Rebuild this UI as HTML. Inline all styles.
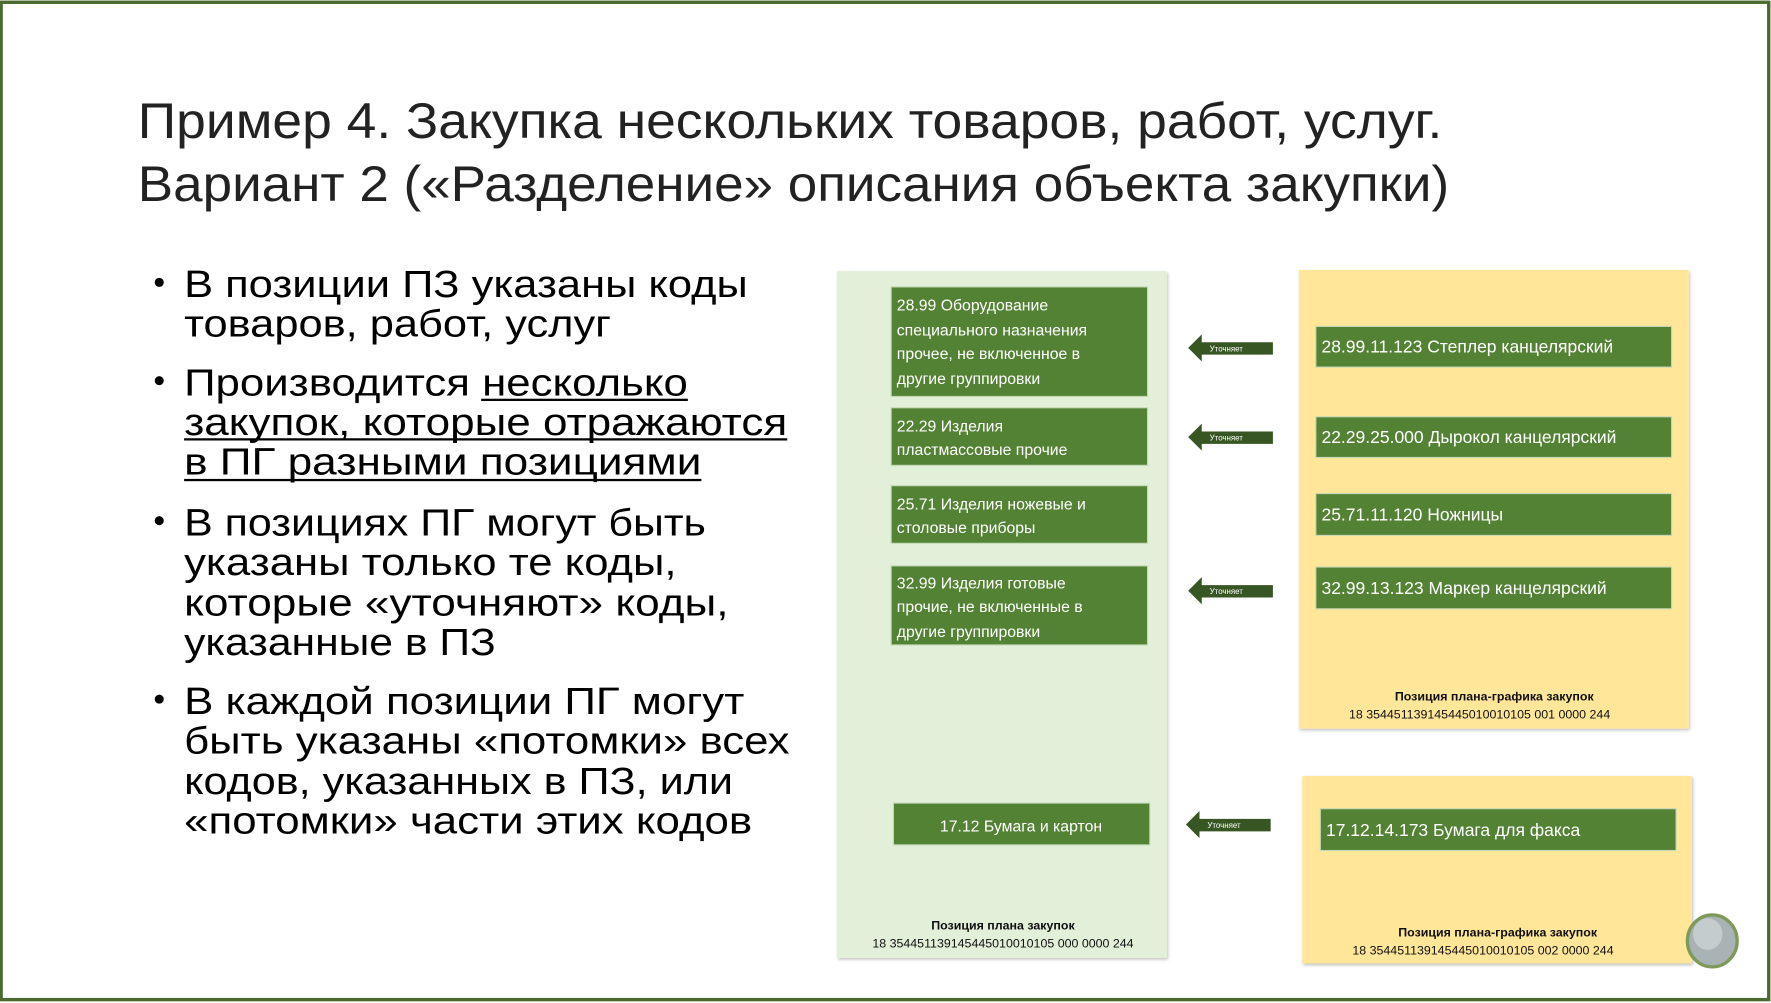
<!DOCTYPE html>
<html><head><meta charset="utf-8"><style>
html,body{margin:0;padding:0;background:#fff;}
svg{display:block}
text{font-family:"Liberation Sans","DejaVu Sans",sans-serif;}
</style></head><body>
<svg width="1771" height="1003" viewBox="0 0 1568 888" preserveAspectRatio="none" xmlns="http://www.w3.org/2000/svg">
<defs>
<filter id="sh" x="-5%" y="-5%" width="110%" height="110%"><feDropShadow dx="1" dy="1.5" stdDeviation="1.5" flood-color="#000" flood-opacity="0.25"/></filter>
</defs>
<rect x="0" y="0" width="1568" height="888" fill="#fff"/>
<rect x="1" y="2" width="1565" height="883" fill="none" stroke="#4b6b2e" stroke-width="3"/>
<g fill="#222">
<text x="122" y="122" font-size="44" textLength="1155" lengthAdjust="spacingAndGlyphs">Пример 4. Закупка нескольких товаров, работ, услуг.</text>
<text x="122" y="178" font-size="44" textLength="1161" lengthAdjust="spacingAndGlyphs">Вариант 2 («Разделение» описания объекта закупки)</text>
</g>
<g fill="#000" font-size="34">
<circle cx="141" cy="250" r="4"/><circle cx="141" cy="337" r="4"/><circle cx="141" cy="461" r="4"/><circle cx="141" cy="619" r="4"/>
<text x="163" y="263" textLength="499" lengthAdjust="spacingAndGlyphs">В позиции ПЗ указаны коды</text>
<text x="163" y="298" textLength="378" lengthAdjust="spacingAndGlyphs">товаров, работ, услуг</text>
<text x="163" y="350" textLength="446" lengthAdjust="spacingAndGlyphs">Производится несколько</text>
<text x="163" y="385" textLength="534" lengthAdjust="spacingAndGlyphs">закупок, которые отражаются</text>
<text x="163" y="420" textLength="458" lengthAdjust="spacingAndGlyphs">в ПГ разными позициями</text>
<text x="163" y="474" textLength="462" lengthAdjust="spacingAndGlyphs">В позициях ПГ могут быть</text>
<text x="163" y="509" textLength="436" lengthAdjust="spacingAndGlyphs">указаны только те коды,</text>
<text x="163" y="545" textLength="482" lengthAdjust="spacingAndGlyphs">которые «уточняют» коды,</text>
<text x="163" y="580" textLength="276" lengthAdjust="spacingAndGlyphs">указанные в ПЗ</text>
<text x="163" y="632" textLength="496" lengthAdjust="spacingAndGlyphs">В каждой позиции ПГ могут</text>
<text x="163" y="667" textLength="536" lengthAdjust="spacingAndGlyphs">быть указаны «потомки» всех</text>
<text x="163" y="703" textLength="486" lengthAdjust="spacingAndGlyphs">кодов, указанных в ПЗ, или</text>
<text x="163" y="738" textLength="503" lengthAdjust="spacingAndGlyphs">«потомки» части этих кодов</text>
<rect x="426" y="353" width="183" height="2"/>
<rect x="163" y="388" width="534" height="2"/>
<rect x="163" y="424" width="458" height="2"/>
</g>
<rect x="741" y="240" width="292" height="608" fill="#e2efd9" filter="url(#sh)"/>
<rect x="1150" y="239" width="345" height="406" fill="#ffe699" filter="url(#sh)"/>
<rect x="1153" y="687" width="345" height="166" fill="#ffe699" filter="url(#sh)"/>
<g fill="#548235" stroke="#c5d9b5" stroke-width="1">
<rect x="789" y="254" width="227" height="97"/>
<rect x="789" y="361" width="227" height="51"/>
<rect x="789" y="430" width="227" height="51"/>
<rect x="789" y="501" width="227" height="70"/>
<rect x="791" y="711" width="227" height="37"/>
<rect x="1165" y="289" width="315" height="36"/>
<rect x="1165" y="369" width="315" height="36"/>
<rect x="1165" y="437" width="315" height="37"/>
<rect x="1165" y="502" width="315" height="37"/>
<rect x="1169" y="716" width="315" height="37"/>
</g>
<g fill="#fff" font-size="14">
<text x="794" y="275">28.99 Оборудование</text>
<text x="794" y="297">специального назначения</text>
<text x="794" y="318">прочее, не включенное в</text>
<text x="794" y="340">другие группировки</text>
<text x="794" y="382">22.29 Изделия</text>
<text x="794" y="403">пластмассовые прочие</text>
<text x="794" y="451">25.71 Изделия ножевые и</text>
<text x="794" y="472">столовые приборы</text>
<text x="794" y="521">32.99 Изделия готовые</text>
<text x="794" y="542">прочие, не включенные в</text>
<text x="794" y="564">другие группировки</text>
<text x="904" y="736" text-anchor="middle">17.12 Бумага и картон</text>
</g>
<g fill="#fff" font-size="15.5">
<text x="1170" y="312">28.99.11.123 Степлер канцелярский</text>
<text x="1170" y="392">22.29.25.000 Дырокол канцелярский</text>
<text x="1170" y="461">25.71.11.120 Ножницы</text>
<text x="1170" y="526">32.99.13.123 Маркер канцелярский</text>
<text x="1174" y="740">17.12.14.173 Бумага для факса</text>
</g>
<g fill="#375623">
<path d="M1052,308 L1064,296 L1064,303 L1127,303 L1127,314 L1064,314 L1064,320 Z"/>
<path d="M1052,387 L1064,375 L1064,382 L1127,382 L1127,393 L1064,393 L1064,399 Z"/>
<path d="M1052,523 L1064,511 L1064,518 L1127,518 L1127,529 L1064,529 L1064,535 Z"/>
<path d="M1050,730 L1062,718 L1062,725 L1125,725 L1125,736 L1062,736 L1062,742 Z"/>
</g>
<g fill="#fff" font-size="7">
<text x="1071" y="311">Уточняет</text>
<text x="1071" y="390">Уточняет</text>
<text x="1071" y="526">Уточняет</text>
<text x="1069" y="733">Уточняет</text>
</g>
<g fill="#111" font-size="11" text-anchor="middle">
<text x="1323" y="620" font-weight="bold">Позиция плана-графика закупок</text>
<text x="1310" y="636">18 354451139145445010010105 001 0000 244</text>
<text x="888" y="823" font-weight="bold">Позиция плана закупок</text>
<text x="888" y="839">18 354451139145445010010105 000 0000 244</text>
<text x="1326" y="829" font-weight="bold">Позиция плана-графика закупок</text>
<text x="1313" y="845">18 354451139145445010010105 002 0000 244</text>
</g>
<ellipse cx="1516" cy="833" rx="22" ry="23" fill="#a9b2b5" stroke="#7d9a5a" stroke-width="3"/>
<ellipse cx="1512" cy="827" rx="13" ry="14" fill="#c4ccce"/>
</svg>
</body></html>
